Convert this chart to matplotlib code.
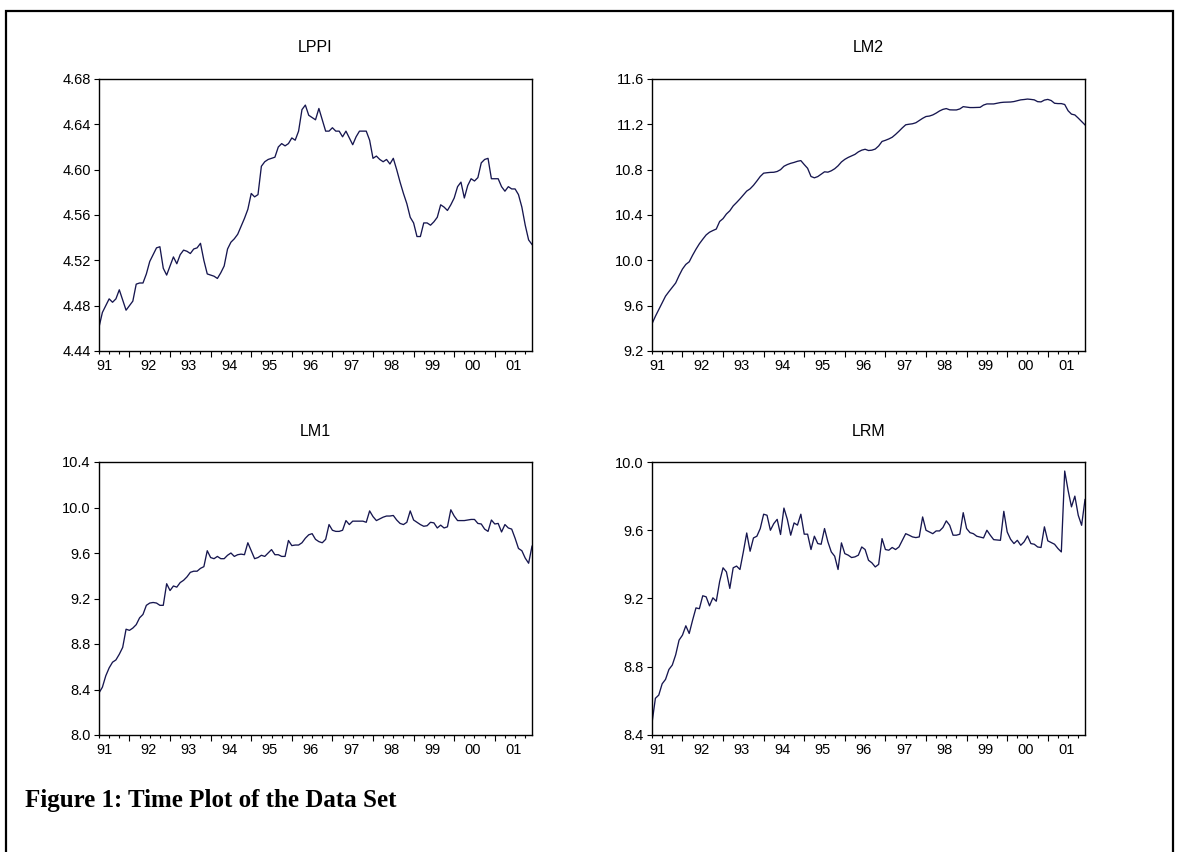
import matplotlib
matplotlib.use('Agg')
import matplotlib.pyplot as plt
from matplotlib.patches import Rectangle
import numpy as np

plt.rcParams['font.family'] = ['Liberation Sans', 'DejaVu Sans']

# ---------------- data (monthly, 1991M4 - 2001M12) ----------------
start_year, start_month = 1991, 4
year_labels = ['91', '92', '93', '94', '95', '96', '97', '98', '99', '00', '01']

lppi = [4.461, 4.474, 4.480, 4.486, 4.483, 4.486, 4.494, 4.485, 4.476, 4.480,
        4.484, 4.499, 4.500, 4.500, 4.508, 4.519, 4.525, 4.531, 4.532, 4.513,
        4.507, 4.515, 4.523, 4.517, 4.525, 4.529, 4.528, 4.526, 4.530, 4.531,
        4.535, 4.520, 4.508, 4.507, 4.506, 4.504, 4.509, 4.515, 4.530, 4.536,
        4.539, 4.543, 4.550, 4.557, 4.565, 4.579, 4.576, 4.578, 4.603, 4.607,
        4.609, 4.610, 4.611, 4.620, 4.623, 4.621, 4.623, 4.628, 4.626, 4.634,
        4.653, 4.657, 4.648, 4.646, 4.644, 4.654, 4.644, 4.634, 4.634, 4.637,
        4.634, 4.634, 4.629, 4.634, 4.628, 4.622, 4.629, 4.634, 4.634, 4.634,
        4.626, 4.610, 4.612, 4.609, 4.607, 4.609, 4.605, 4.610, 4.600, 4.589,
        4.579, 4.570, 4.558, 4.553, 4.541, 4.541, 4.553, 4.553, 4.551, 4.554,
        4.558, 4.569, 4.567, 4.564, 4.569, 4.575, 4.585, 4.589, 4.575, 4.586,
        4.592, 4.590, 4.593, 4.606, 4.609, 4.610, 4.592, 4.592, 4.592, 4.585,
        4.581, 4.585, 4.583, 4.583, 4.578, 4.567, 4.551, 4.538, 4.534]

lm2 = [9.440, 9.506, 9.565, 9.624, 9.684, 9.724, 9.762, 9.800, 9.865, 9.923,
       9.964, 9.987, 10.045, 10.098, 10.146, 10.186, 10.224, 10.248, 10.263, 10.276,
       10.343, 10.368, 10.409, 10.437, 10.480, 10.510, 10.542, 10.576, 10.611, 10.631,
       10.662, 10.700, 10.740, 10.769, 10.773, 10.776, 10.777, 10.784, 10.800, 10.830,
       10.845, 10.856, 10.864, 10.874, 10.880, 10.845, 10.812, 10.740, 10.728, 10.739,
       10.760, 10.781, 10.778, 10.790, 10.808, 10.834, 10.868, 10.891, 10.908, 10.922,
       10.935, 10.957, 10.972, 10.980, 10.969, 10.972, 10.982, 11.009, 11.049, 11.059,
       11.071, 11.086, 11.111, 11.139, 11.169, 11.196, 11.201, 11.205, 11.214, 11.234,
       11.253, 11.269, 11.273, 11.283, 11.299, 11.318, 11.332, 11.339, 11.328, 11.327,
       11.327, 11.336, 11.356, 11.352, 11.348, 11.348, 11.349, 11.350, 11.370, 11.380,
       11.380, 11.380, 11.386, 11.392, 11.395, 11.396, 11.397, 11.401, 11.409, 11.416,
       11.419, 11.423, 11.420, 11.416, 11.400, 11.398, 11.414, 11.420, 11.410, 11.386,
       11.383, 11.383, 11.375, 11.320, 11.290, 11.283, 11.255, 11.225, 11.195]

lm1 = [8.37, 8.42, 8.52, 8.59, 8.64, 8.66, 8.71, 8.77, 8.93, 8.92,
       8.94, 8.97, 9.03, 9.06, 9.14, 9.16, 9.165, 9.16, 9.14, 9.14,
       9.33, 9.27, 9.31, 9.30, 9.34, 9.36, 9.39, 9.43, 9.44, 9.44,
       9.465, 9.48, 9.62, 9.56, 9.55, 9.57, 9.55, 9.55, 9.58, 9.60,
       9.57, 9.585, 9.59, 9.585, 9.69, 9.62, 9.55, 9.56, 9.58, 9.57,
       9.60, 9.63, 9.585, 9.585, 9.57, 9.57, 9.71, 9.665, 9.67, 9.67,
       9.69, 9.73, 9.76, 9.77, 9.72, 9.70, 9.69, 9.72, 9.85, 9.80,
       9.79, 9.79, 9.80, 9.885, 9.85, 9.88, 9.88, 9.88, 9.88, 9.87,
       9.97, 9.92, 9.885, 9.90, 9.915, 9.925, 9.925, 9.93, 9.89, 9.86,
       9.85, 9.87, 9.97, 9.89, 9.87, 9.85, 9.835, 9.84, 9.87, 9.865,
       9.82, 9.845, 9.82, 9.83, 9.98, 9.925, 9.885, 9.885, 9.885, 9.89,
       9.895, 9.895, 9.86, 9.855, 9.81, 9.79, 9.89, 9.855, 9.86, 9.785,
       9.85, 9.82, 9.81, 9.73, 9.64, 9.62, 9.555, 9.51, 9.66]

lrm = [8.47, 8.615, 8.634, 8.70, 8.726, 8.784, 8.81, 8.87, 8.956, 8.985,
       9.04, 8.995, 9.073, 9.145, 9.14, 9.216, 9.21, 9.157, 9.204, 9.184,
       9.30, 9.38, 9.356, 9.259, 9.38, 9.39, 9.37, 9.473, 9.584, 9.477,
       9.555, 9.565, 9.61, 9.694, 9.688, 9.60, 9.639, 9.664, 9.575, 9.73,
       9.664, 9.571, 9.643, 9.63, 9.694, 9.577, 9.577, 9.487, 9.565, 9.522,
       9.518, 9.61, 9.532, 9.473, 9.448, 9.37, 9.526, 9.463, 9.454, 9.44,
       9.444, 9.454, 9.502, 9.487, 9.424, 9.409, 9.385, 9.40, 9.551, 9.487,
       9.483, 9.499, 9.487, 9.502, 9.541, 9.58, 9.571, 9.561, 9.557, 9.561,
       9.678, 9.60, 9.59, 9.58, 9.596, 9.596, 9.616, 9.655, 9.629, 9.571,
       9.571, 9.577, 9.703, 9.61, 9.586, 9.58, 9.565, 9.56, 9.555, 9.60,
       9.571, 9.545, 9.543, 9.541, 9.711, 9.59, 9.547, 9.522, 9.541, 9.512,
       9.532, 9.567, 9.522, 9.518, 9.502, 9.499, 9.62, 9.538, 9.528, 9.518,
       9.493, 9.473, 9.947, 9.834, 9.737, 9.80, 9.688, 9.629, 9.78]

titles = ['LPPI', 'LM2', 'LM1', 'LRM']
series = [lppi, lm2, lm1, lrm]
y_ranges = [(4.44, 4.68, 0.04, '%.2f'), (9.2, 11.6, 0.4, '%.1f'),
            (8.0, 10.4, 0.4, '%.1f'), (8.4, 10.0, 0.4, '%.1f')]
caption = 'Figure 1: Time Plot of the Data Set'

# ---------------- figure ----------------
W, H = 1180, 852
fig = plt.figure(figsize=(W / 100, H / 100), dpi=100)
fig.patch.set_facecolor('white')

LINE = '#16164f'
TICK_FS = 10.5

# panel rectangles in pixels (left, top, right, bottom)
boxes = [(99, 79, 532, 351), (652, 79, 1085, 351),
         (99, 462, 532, 735), (652, 462, 1085, 735)]

n = len(lppi)
t = np.arange(n)
first_jan = (13 - start_month) % 12
jan_idx = list(range(first_jan, n, 12))
quarter_idx = [i for i in range(0, n) if (i - first_jan) % 3 == 0 and i not in jan_idx]
label_pos = [first_jan - 12 + 5.5 + 12 * k for k in range(len(year_labels))]
label_pos[0] = 1.5

for (l, tp, r, b), data, title, (ylo, yhi, ystep, fmt) in zip(boxes, series, titles, y_ranges):
    ax = fig.add_axes([l / W, 1 - b / H, (r - l) / W, (b - tp) / H])
    ax.plot(t, data, color=LINE, lw=0.95)
    ax.set_xlim(0, n - 1)
    ax.set_ylim(ylo, yhi)
    yt = np.round(np.arange(ylo, yhi + ystep / 2, ystep), 4)
    ax.set_yticks(yt)
    ax.set_yticklabels([fmt % v for v in yt])
    ax.set_xticks(jan_idx)
    ax.set_xticklabels([])
    ax.set_xticks(quarter_idx, minor=True)
    ax.tick_params(axis='x', which='major', direction='out', length=4.5, width=0.8, colors='black')
    ax.tick_params(axis='x', which='minor', direction='out', length=2.5, width=0.8, colors='black')
    ax.tick_params(axis='y', which='major', direction='out', length=3.5, width=0.8,
                   labelsize=TICK_FS, pad=2.5, colors='black')
    for s in ax.spines.values():
        s.set_linewidth(1.0)
        s.set_color('black')
    for lab, xp in zip(year_labels, label_pos):
        ax.text(xp, -0.028, lab, transform=ax.get_xaxis_transform(),
                ha='center', va='top', fontsize=TICK_FS, color='black')
    fig.text((l + r) / 2 / W, 1 - (tp - 31) / H, title, ha='center', va='center',
             fontsize=11.5, color='black')

# caption
fig.text(25 / W, 1 - 800 / H, caption, ha='left', va='center',
         fontsize=18, fontweight='bold', family=['Liberation Serif', 'DejaVu Serif'],
         color='black')

# surrounding frame (open at bottom)
frame = Rectangle((6 / W, -0.05), (1173 - 6) / W, 1.05 - 11 / H,
                  transform=fig.transFigure, fill=False, lw=1.6, ec='black')
fig.add_artist(frame)

fig.savefig('out.png', dpi=100, facecolor='white')
